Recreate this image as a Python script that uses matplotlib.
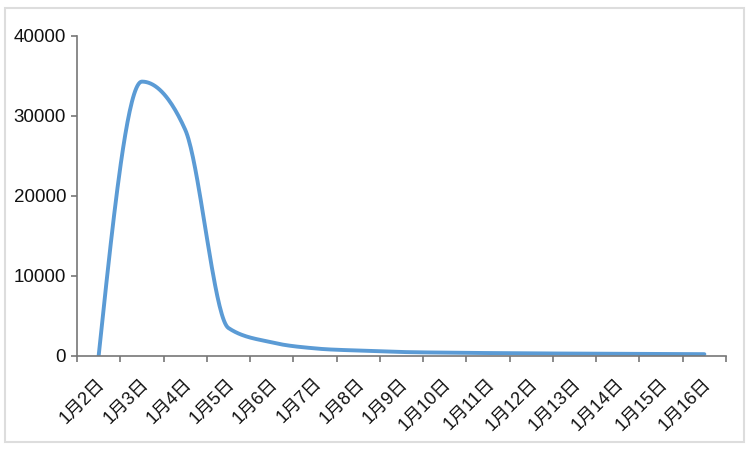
import numpy as np
import matplotlib
matplotlib.use("Agg")
import matplotlib.pyplot as plt
import matplotlib.transforms as mtransforms
from matplotlib.patches import Rectangle

plt.rcParams['font.family'] = ['Liberation Sans', 'Noto Sans CJK SC', 'DejaVu Sans']

days = ["1月2日", "1月3日", "1月4日", "1月5日", "1月6日", "1月7日", "1月8日", "1月9日",
        "1月10日", "1月11日", "1月12日", "1月13日", "1月14日", "1月15日", "1月16日"]
values = [0, 34300, 28300, 3500, 1700, 950, 680, 500, 420, 370, 330, 300, 270, 250, 230]
y_ticks = [0, 10000, 20000, 30000, 40000]


def monotone_x(x, y, n=40):
    # same idea as d3.curveMonotoneX: cubic bezier with limited slopes
    x = np.asarray(x, float)
    y = np.asarray(y, float)
    h = np.diff(x)
    s = np.diff(y) / h
    t = np.zeros_like(y)
    for i in range(1, len(y) - 1):
        p = (s[i - 1] * h[i] + s[i] * h[i - 1]) / (h[i - 1] + h[i])
        t[i] = (np.sign(s[i - 1]) + np.sign(s[i])) * min(abs(s[i - 1]), abs(s[i]), 0.5 * abs(p))
    t[0] = (3 * s[0] - t[1]) / 2
    t[-1] = (3 * s[-1] - t[-2]) / 2
    xs, ys = [], []
    u = np.linspace(0, 1, n)
    for i in range(len(x) - 1):
        dx = h[i] / 3
        p0 = (x[i], y[i])
        p1 = (x[i] + dx, y[i] + dx * t[i])
        p2 = (x[i + 1] - dx, y[i + 1] - dx * t[i + 1])
        p3 = (x[i + 1], y[i + 1])
        b = [(1 - u) ** 3, 3 * (1 - u) ** 2 * u, 3 * (1 - u) * u ** 2, u ** 3]
        xs.append(sum(bi * pi[0] for bi, pi in zip(b, (p0, p1, p2, p3))))
        ys.append(sum(bi * pi[1] for bi, pi in zip(b, (p0, p1, p2, p3))))
    return np.concatenate(xs), np.concatenate(ys)


fig = plt.figure(figsize=(7.54, 4.5), dpi=100)
fig.patches.append(Rectangle((5 / 754, 8 / 450), 739 / 754, 434 / 450, transform=fig.transFigure,
                             fill=False, edgecolor="#dddddd", linewidth=1.5))
ax = fig.add_axes([77 / 754, 94 / 450, 649 / 754, 320 / 450])

xi = np.arange(len(days))
cx, cy = monotone_x(xi, values)
ax.plot(cx, cy, color="#5b9bd5", linewidth=2.8, solid_capstyle="round", solid_joinstyle="round")

ax.set_xlim(-0.5, len(days) - 0.5)
ax.set_ylim(0, 40000)

for side in ["top", "right"]:
    ax.spines[side].set_visible(False)
for side in ["left", "bottom"]:
    ax.spines[side].set_color("#777777")
    ax.spines[side].set_linewidth(1.2)

ax.set_yticks(y_ticks)
ax.set_yticklabels([str(v) for v in y_ticks])
ax.tick_params(axis="y", length=4.3, width=1.2, color="#777777", pad=3.5, labelsize=13.5, labelcolor="#111111")

ax.set_xticks(np.arange(-0.5, len(days), 1.0))
ax.set_xticklabels([])
ax.tick_params(axis="x", which="major", length=4.3, width=1.2, color="#777777")
ax.set_xticks(xi, days, minor=True)
ax.tick_params(axis="x", which="minor", length=0, pad=18, labelsize=13, labelcolor="#111111")
offset = mtransforms.ScaledTranslation(4 / 100, 0, fig.dpi_scale_trans)
for lab in ax.get_xticklabels(minor=True):
    lab.set_rotation(45)
    lab.set_ha("right")
    lab.set_va("center")
    lab.set_rotation_mode("anchor")
    lab.set_transform(lab.get_transform() + offset)

fig.savefig("out.png", dpi=100)
